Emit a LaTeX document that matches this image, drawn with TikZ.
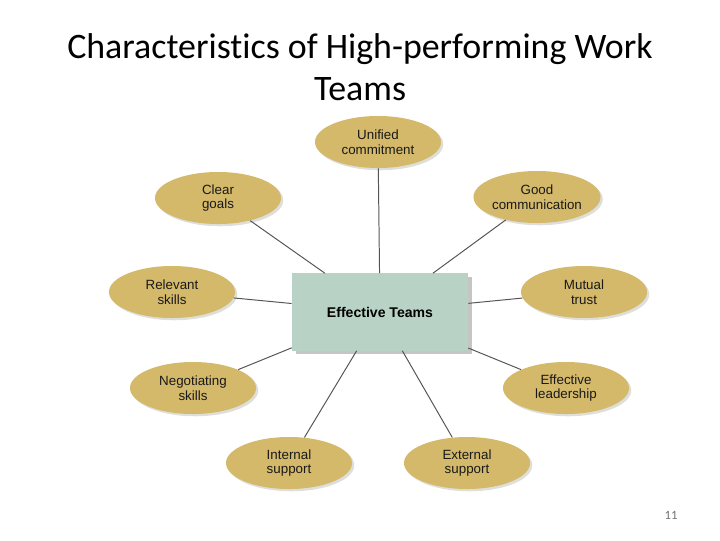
\documentclass[tikz,border=0pt]{standalone}
\usepackage{fontspec}
\setmainfont[Ligatures=NoCommon]{Carlito}
\setsansfont{Liberation Sans}
\usepackage{xcolor}
\usepackage{tikz}
\usetikzlibrary{shapes.geometric, shadows}
\definecolor{ouro}{HTML}{D4B96A}
\definecolor{verdeagua}{HTML}{B8D3C6}
\definecolor{linha}{HTML}{555555}
\definecolor{sombra}{HTML}{BDBDB5}

\begin{document}
\begin{tikzpicture}[
    x=0.025cm, y=-0.025cm,
    atributo/.style={ellipse, fill=ouro, minimum width=3.15cm, minimum height=1.3cm, inner sep=0pt,
                     align=center, font=\sffamily\fontsize{9.5}{10.5}\selectfont, text=black!90,
                     drop shadow={shadow xshift=1.6pt, shadow yshift=-1.6pt, fill=sombra}},
    centro/.style={rectangle, fill=verdeagua, minimum width=4.4cm, minimum height=1.925cm,
                   font=\sffamily\bfseries\fontsize{10}{11}\selectfont,
                   drop shadow={shadow xshift=2.8pt, shadow yshift=-2.5pt, fill=black!45}},
    ligacao/.style={linha, line width=0.7pt},
    titulo/.style={align=center, inner sep=0pt, font=\fontsize{25.5}{30}\selectfont},
    numero/.style={font=\fontsize{9}{11}\selectfont, text=black!55, inner sep=0pt}
]
    \useasboundingbox (0,0) rectangle (720,540);

    \node[titulo] (titulo) at (360,67) {Characteristics of High-performing Work\\Teams};

    \node[centro] (equipe) at (380,312) {Effective Teams};

    \node[atributo] (compromisso) at (378,142) {Unified\\commitment};
    \node[atributo] (metas) at (218,198) {Clear\\goals};
    \node[atributo] (comunicacao) at (537,197) {Good\\communication};
    \node[atributo] (habilidades) at (172,292) {Relevant\\skills};
    \node[atributo] (confianca) at (584,292) {Mutual\\trust};
    \node[atributo] (negociacao) at (193,388) {Negotiating\\skills};
    \node[atributo] (lideranca) at (566,388) {Effective\\leadership};
    \node[atributo] (interno) at (289,463) {Internal\\support};
    \node[atributo] (externo) at (467,463) {External\\support};

    \draw[ligacao] (compromisso) -- (equipe);
    \draw[ligacao] (metas) -- (equipe);
    \draw[ligacao] (comunicacao) -- (equipe);
    \draw[ligacao] (habilidades) -- (equipe);
    \draw[ligacao] (confianca) -- (equipe);
    \draw[ligacao] (negociacao) -- (equipe);
    \draw[ligacao] (lideranca) -- (equipe);
    \draw[ligacao] (interno) -- (equipe);
    \draw[ligacao] (externo) -- (equipe);

    \node[numero] (pagina) at (671,515) {11};
\end{tikzpicture}
\end{document}
